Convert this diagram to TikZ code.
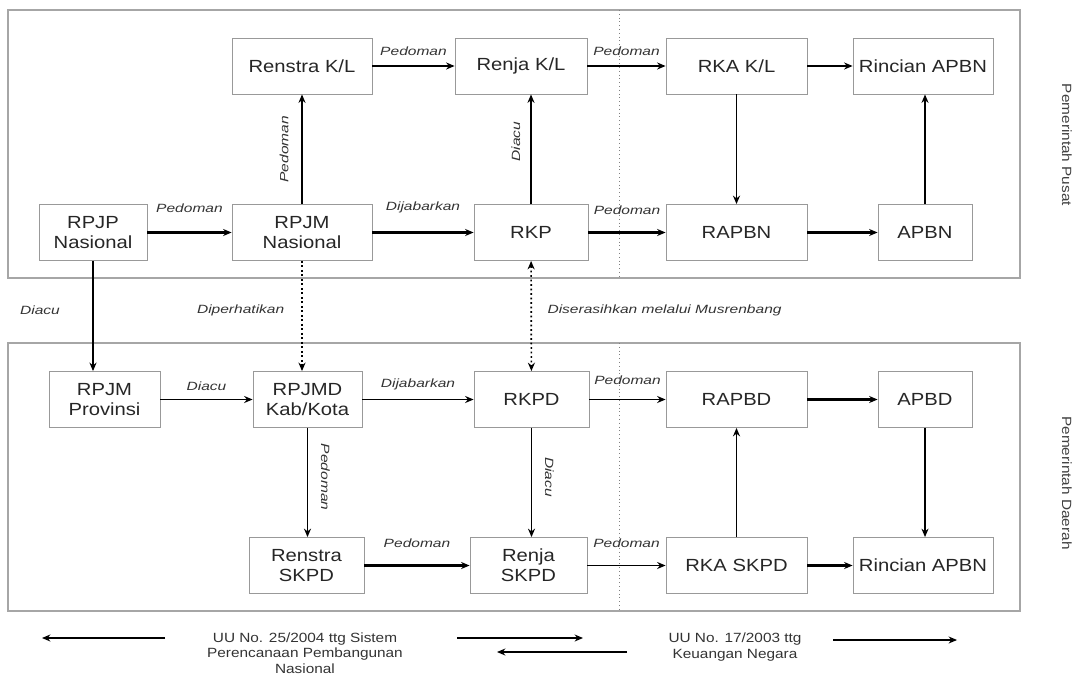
\documentclass[tikz,border=0pt]{standalone}
\usepackage{fontspec}
\setmainfont[FakeStretch=1.15]{Liberation Sans}
\newfontfamily\lblfont[FakeStretch=1.3]{Liberation Sans}
\usetikzlibrary{positioning, arrows.meta}

\begin{document}
\begin{tikzpicture}[x=0.025cm, y=-0.025cm, >={Stealth[length=6pt, width=5pt]},
    box/.style={draw=gray!80, line width=0.6pt, minimum width=#1, minimum height=1.4cm,
        align=center, inner sep=1pt, text=black!85, font=\fontsize{12.5}{14.5}\selectfont},
    lbl/.style={inner sep=1pt, text=black!80, font=\lblfont\itshape\fontsize{8.5}{10}\selectfont},
    conn/.style={->, line width=1.2pt},
    connb/.style={->, line width=2pt},
    connd/.style={->, line width=1.2pt, dotted},
    panel/.style={draw=gray!70, line width=0.9pt},
    legend/.style={align=center, inner sep=1pt, text=black!80, font=\fontsize{9.5}{11}\selectfont},
    side/.style={inner sep=1pt, text=black!75, font=\fontsize{9.5}{10}\selectfont}]
            \useasboundingbox (0,0) rectangle (1082,677);

            % panels
            \draw[panel] (8,10) rectangle (1020,278);
            \draw[panel] (8,343) rectangle (1020,611);
            \draw[gray, dotted, line width=0.7pt] (619,10) -- (619,278);
            \draw[gray, dotted, line width=0.7pt] (619,343) -- (619,611);

            \node[side, rotate=-90] (pusat) at (1067,145) {Pemerintah Pusat};
            \node[side, rotate=-90] (daerah) at (1067,483) {Pemerintah Daerah};

            % Pemerintah Pusat
            \node[box=3.5cm] (renstrakl) at (302,66) {Renstra K/L};
            \node[box=3.3cm] (renjakl) at (521,66) {Renja K/L};
            \node[box=3.525cm] (rkakl) at (736.5,66) {RKA K/L};
            \node[box=3.5cm] (rincianpusat) at (923,66) {Rincian APBN};

            \node[box=2.7cm] (rpjp) at (93,232.5) {RPJP\\Nasional};
            \node[box=3.5cm] (rpjmnas) at (302,232.5) {RPJM\\Nasional};
            \node[box=2.85cm] (rkp) at (531,232.5) {RKP};
            \node[box=3.525cm] (rapbn) at (736.5,232.5) {RAPBN};
            \node[box=2.35cm] (apbn) at (925,232.5) {APBN};

            % Pemerintah Daerah
            \node[box=2.775cm] (rpjmprov) at (104.5,399.5) {RPJM\\Provinsi};
            \node[box=2.725cm] (rpjmd) at (307.5,399.5) {RPJMD\\Kab/Kota};
            \node[box=2.875cm] (rkpd) at (531.5,399.5) {RKPD};
            \node[box=3.525cm] (rapbd) at (736.5,399.5) {RAPBD};
            \node[box=2.35cm] (apbd) at (925,399.5) {APBD};

            \node[box=2.875cm] (renstraskpd) at (306.5,565.5) {Renstra\\SKPD};
            \node[box=2.925cm] (renjaskpd) at (528.5,565.5) {Renja\\SKPD};
            \node[box=3.525cm] (rkaskpd) at (736.5,565.5) {RKA SKPD};
            \node[box=3.5cm] (rincianda) at (923,565.5) {Rincian APBN};

            % Connections: pusat
            \draw[conn] (renstrakl) -- node[lbl, above=6pt] {Pedoman} (renjakl);
            \draw[conn] (renjakl) -- node[lbl, above=6pt] {Pedoman} (rkakl);
            \draw[conn] (rkakl) -- (rincianpusat);
            \draw[connb] (rpjp) -- node[lbl, above=12pt] {Pedoman} (rpjmnas);
            \draw[connb] (rpjmnas) -- node[lbl, above=12pt] {Dijabarkan} (rkp);
            \draw[connb] (rkp) -- node[lbl, above=11pt] {Pedoman} (rapbn);
            \draw[connb] (rapbn) -- (apbn);
            \draw[conn] (rpjmnas) -- node[lbl, xshift=-8pt, rotate=90, anchor=south] {Pedoman} (renstrakl);
            \draw[conn] (rkp.north) -- node[lbl, pos=0.57, xshift=-6pt, rotate=90, anchor=south] {Diacu} (rkp.north |- renjakl.south);
            \draw[conn] (rkakl) -- (rapbn);
            \draw[connb] (apbn.north) -- (apbn.north |- rincianpusat.south);

            % Connections: pusat to daerah
            \draw[conn] (rpjp.south) -- node[lbl, pos=0.45, left=22pt] {Diacu} (rpjp.south |- rpjmprov.north);
            \draw[connd] (rpjmnas.south) -- node[lbl, pos=0.45, left=11pt] {Diperhatikan} (rpjmnas.south |- rpjmd.north);
            \draw[connd, <->] (rkp) -- node[lbl, pos=0.45, right=10pt] {Diserasihkan melalui Musrenbang} (rkpd);

            % Connections: daerah
            \draw[conn] (rpjmprov) -- node[lbl, above=5pt] {Diacu} (rpjmd);
            \draw[conn] (rpjmd) -- node[lbl, above=5pt] {Dijabarkan} (rkpd);
            \draw[conn] (rkpd) -- node[lbl, above=9pt] {Pedoman} (rapbd);
            \draw[connb] (rapbd) -- (apbd);
            \draw[conn] (rpjmd.south) -- node[lbl, pos=0.45, xshift=8pt, rotate=-90, anchor=south] {Pedoman} (rpjmd.south |- renstraskpd.north);
            \draw[conn] (rkpd.south) -- node[lbl, pos=0.45, xshift=8pt, rotate=-90, anchor=south] {Diacu} (rkpd.south |- renjaskpd.north);
            \draw[conn] (rkaskpd) -- (rapbd);
            \draw[conn] (apbd.south) -- (apbd.south |- rincianda.north);
            \draw[connb] (renstraskpd) -- node[lbl, above=11pt] {Pedoman} (renjaskpd);
            \draw[conn] (renjaskpd) -- node[lbl, above=11pt] {Pedoman} (rkaskpd);
            \draw[connb] (rkaskpd) -- (rincianda);

            % legend
            \node[legend] (uu25) at (305,653) {UU No. 25/2004 ttg Sistem\\Perencanaan Pembangunan\\Nasional};
            \node[legend] (uu17) at (735,647) {UU No. 17/2003 ttg\\Keuangan Negara};
            \coordinate (a1) at (165,638);
            \coordinate (a2) at (42,638);
            \coordinate (b1) at (457,638);
            \coordinate (b2) at (583,638);
            \coordinate (c1) at (627,652);
            \coordinate (c2) at (497,652);
            \coordinate (d1) at (833,640);
            \coordinate (d2) at (957,640);
            \draw[->, line width=0.8pt] (a1) -- (a2);
            \draw[->, line width=0.8pt] (b1) -- (b2);
            \draw[->, line width=0.8pt] (c1) -- (c2);
            \draw[->, line width=0.8pt] (d1) -- (d2);
        \end{tikzpicture}
\end{document}
